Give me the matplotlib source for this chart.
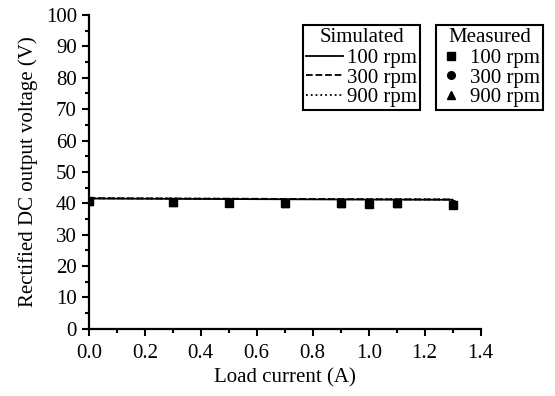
import numpy as np
import matplotlib.pyplot as plt
from matplotlib.ticker import MultipleLocator

plt.rcParams['font.family'] = ['Liberation Serif', 'DejaVu Serif']

# simulated curves
sim_current = [0.0, 0.3, 0.6, 0.9, 1.3]
sim_100 = [41.5, 41.4, 41.3, 41.2, 41.1]
sim_300 = [41.6, 41.5, 41.4, 41.3, 41.2]
sim_900 = [41.6, 41.5, 41.4, 41.3, 41.2]

# measured points
meas_current = [0.0, 0.3, 0.5, 0.7, 0.9, 1.0, 1.1, 1.3]
meas_100 = [40.6, 40.3, 40.2, 40.0, 40.0, 39.9, 40.1, 39.5]
meas_300 = [40.7, 40.4, 40.3, 40.1, 40.1, 40.0, 40.2, 39.6]
meas_900 = [40.7, 40.4, 40.3, 40.1, 40.1, 40.0, 40.2, 39.6]

fig, ax = plt.subplots(figsize=(5.55, 3.96), dpi=100)
fig.subplots_adjust(left=0.160, right=0.866, top=0.962, bottom=0.170)

l1, = ax.plot(sim_current, sim_100, 'k-', lw=1.3)
l2, = ax.plot(sim_current, sim_300, 'k--', lw=1.3)
l3, = ax.plot(sim_current, sim_900, 'k:', lw=1.3)
m1, = ax.plot(meas_current, meas_100, 'ks', ms=5.5, ls='none')
m2, = ax.plot(meas_current, meas_300, 'ko', ms=5.5, ls='none')
m3, = ax.plot(meas_current, meas_900, 'k^', ms=5.5, ls='none')

ax.set_xlim(0, 1.4)
ax.set_ylim(0, 100)
ax.xaxis.set_major_locator(MultipleLocator(0.2))
ax.xaxis.set_minor_locator(MultipleLocator(0.1))
ax.yaxis.set_major_locator(MultipleLocator(10))
ax.yaxis.set_minor_locator(MultipleLocator(5))
ax.xaxis.set_major_formatter(plt.FormatStrFormatter('%.1f'))

ax.spines['top'].set_visible(False)
ax.spines['right'].set_visible(False)
ax.spines['left'].set_linewidth(1.6)
ax.spines['bottom'].set_linewidth(1.6)
ax.tick_params(axis='both', which='both', direction='out', labelsize=15, width=1.5)
ax.tick_params(axis='both', which='major', length=5)
ax.tick_params(axis='both', which='minor', length=3)
ax.tick_params(axis='x', which='major', pad=6)

ax.set_xlabel("Load current (A)", fontsize=15, labelpad=4)
ax.set_ylabel("Rectified DC output voltage (V)", fontsize=15, labelpad=6)

leg1 = ax.legend([l1, l2, l3], ["100 rpm", "300 rpm", "900 rpm"], title="Simulated",
                 loc='upper left', bbox_to_anchor=(0.547, 0.968), fontsize=15,
                 title_fontsize=15, frameon=True, fancybox=False, edgecolor='black',
                 handlelength=1.75, handletextpad=0.2, borderpad=0.15, labelspacing=0.0,
                 borderaxespad=0, framealpha=1)
leg1.get_frame().set_linewidth(1.5)
leg1._legend_box.sep = 1
ax.add_artist(leg1)
leg2 = ax.legend([m1, m2, m3], ["100 rpm", "300 rpm", "900 rpm"], title="Measured",
                 loc='upper left', bbox_to_anchor=(0.885, 0.968), fontsize=15,
                 title_fontsize=15, frameon=True, fancybox=False, edgecolor='black',
                 handlelength=1.2, handletextpad=0.3, borderpad=0.15, labelspacing=0.0,
                 borderaxespad=0, framealpha=1)
leg2.get_frame().set_linewidth(1.5)
leg2._legend_box.sep = 1

fig.savefig("out.png")
